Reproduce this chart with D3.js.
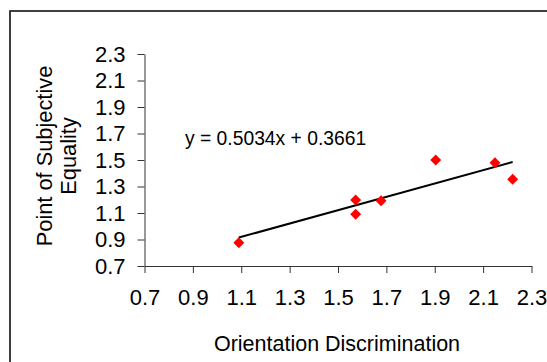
<!DOCTYPE html>
<html><head><meta charset="utf-8">
<script src="https://cdn.jsdelivr.net/npm/d3@7"></script>
<style>body{margin:0;background:#fff}svg{display:block}text{font-family:"Liberation Sans",Arial,sans-serif;fill:#000}</style>
</head><body><svg id="c" width="547" height="362"></svg>
<script>
const xValues = [1.09, 1.573, 1.573, 1.678, 1.904, 2.149, 2.222];
const yValues = [0.876, 1.198, 1.09, 1.193, 1.50, 1.48, 1.354];
const tickValues = [0.7, 0.9, 1.1, 1.3, 1.5, 1.7, 1.9, 2.1, 2.3];
const slope = 0.5034, intercept = 0.3661;
const equationLabel = "y = 0.5034x + 0.3661";
const xTitle = "Orientation Discrimination";
const yTitleLines = ["Point of Subjective", "Equality"];

const svg = d3.select("#c");
svg.append("rect").attr("x",10).attr("y",11).attr("width",545).attr("height",370)
  .attr("fill","none").attr("stroke","#111").attr("stroke-width",1.6);

const x = d3.scaleLinear().domain([0.7,2.3]).range([144.5,531.5]);
const y = d3.scaleLinear().domain([0.7,2.3]).range([266,54]);

const xAxis = svg.append("g").attr("transform","translate(0,266)")
  .call(d3.axisBottom(x).tickValues(tickValues).tickFormat(d3.format(".1f")).tickSizeOuter(0).tickSizeInner(7).tickPadding(16));
const yAxis = svg.append("g").attr("transform","translate(144.5,0)")
  .call(d3.axisLeft(y).tickValues(tickValues).tickFormat(d3.format(".1f")).tickSizeOuter(0).tickSizeInner(7).tickPadding(12));
[xAxis,yAxis].forEach(g=>{
  g.attr("font-size",22);
  g.selectAll("path,line").attr("stroke","#333").attr("stroke-width",1);
  g.selectAll("text").style("font-size","22px").attr("fill","#000");
});

// trendline
const xr = d3.extent(xValues);
svg.append("line")
  .attr("x1",x(xr[0])).attr("y1",y(slope*xr[0]+intercept))
  .attr("x2",x(xr[1])).attr("y2",y(slope*xr[1]+intercept))
  .attr("stroke","#000").attr("stroke-width",2);

const pts = xValues.map((v,i)=>[v,yValues[i]]);
svg.append("g").selectAll("path").data(pts).join("path")
  .attr("d",d3.symbol(d3.symbolSquare, 60))
  .attr("transform",d=>`translate(${x(d[0])},${y(d[1])}) rotate(45)`)
  .attr("fill","#ff0000");

svg.append("text").attr("x",185).attr("y",145).style("font-size","19.3px").text(equationLabel);

svg.append("text").attr("x",(x(0.7)+x(2.3))/2-1).attr("y",351).attr("text-anchor","middle")
  .style("font-size","21.5px").text(xTitle);

const yt = svg.append("text").attr("transform","translate(0,156) rotate(-90)").attr("text-anchor","middle").style("font-size","21.8px");
yTitleLines.forEach((l,i)=>yt.append("tspan").attr("x",0).attr("y",52+i*24).text(l));
</script></body></html>
